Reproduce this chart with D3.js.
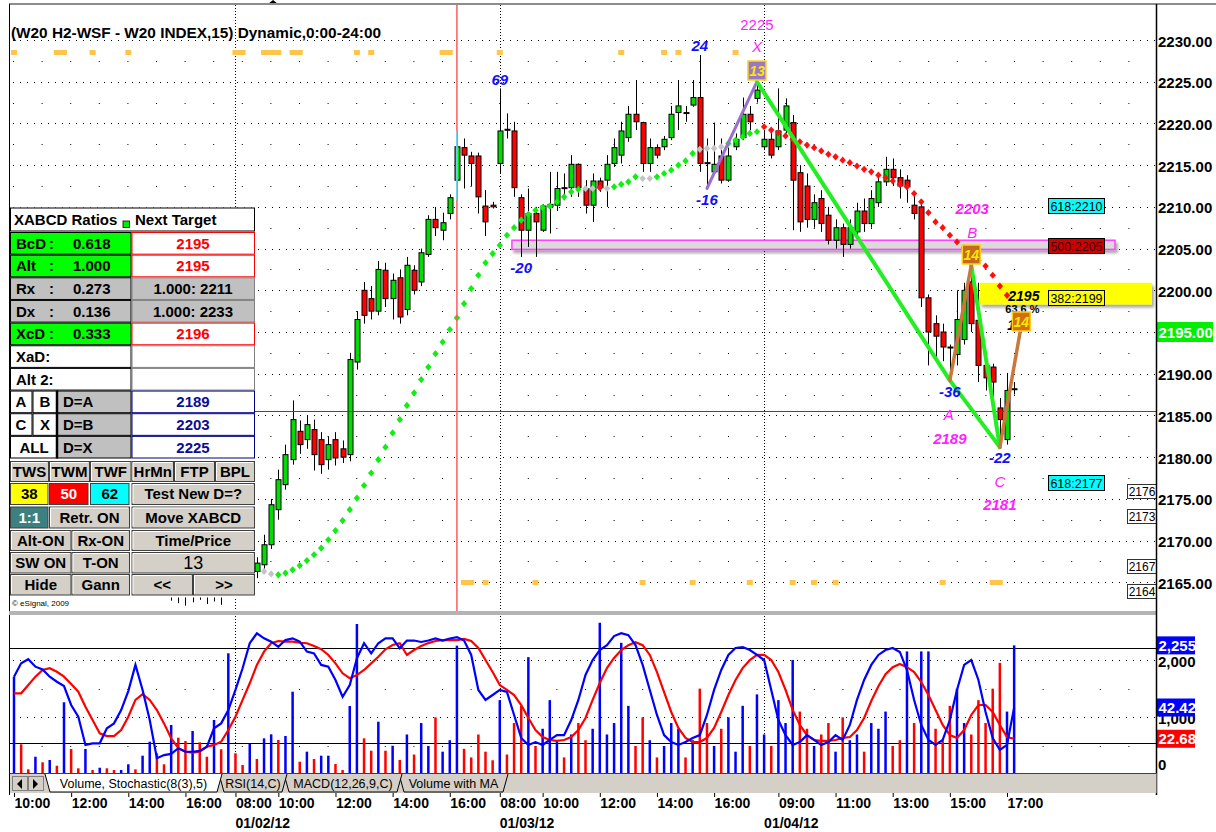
<!DOCTYPE html>
<html>
<head>
<meta charset="utf-8">
<title>W20 H2-WSF XABCD</title>
<script src="https://cdn.jsdelivr.net/npm/d3@7/dist/d3.min.js"></script>
<style>
  body { margin: 0; background: #fff; }
  svg { display: block; font-family: "Liberation Sans", Arial, sans-serif; }
</style>
</head>
<body>
<div id="chart"></div>
<script>
// ---------------- data ----------------
// one entry per 15 minute bar, bar 0 = 10:00 on the first day
const openP = [
  2168.0, 2168.8, 2169.6, 2170.0, 2169.2, 2169.0, 2168.4, 2168.0, 2166.9, 2166.0,
  2165.2, 2164.7, 2165.0, 2165.5, 2166.0, 2166.6, 2167.4, 2168.0, 2166.9, 2165.4,
  2164.3, 2164.2, 2164.4, 2164.0, 2164.3, 2163.8, 2164.6, 2164.0, 2164.8, 2165.3,
  2165.8, 2166.4, 2166.9, 2166.3, 2166.3, 2167.1, 2169.5, 2173.7, 2176.7, 2179.7,
  2183.1, 2182.1, 2183.3, 2182.1, 2179.7, 2182.1, 2181.0, 2180.3, 2191.4, 2200.0,
  2199.0, 2197.5, 2202.4, 2199.0, 2201.5, 2197.7, 2202.4, 2201.0, 2204.3, 2208.5,
  2207.2, 2209.2, 2213.2, 2217.1, 2216.1, 2216.1, 2210.1, 2210.2, 2215.2, 2219.3,
  2219.1, 2211.1, 2207.2, 2209.2, 2207.2, 2210.0, 2210.2, 2212.3, 2212.3, 2215.1,
  2212.2, 2210.2, 2213.1, 2213.2, 2215.2, 2216.2, 2218.3, 2221.1, 2220.1, 2215.2,
  2217.1, 2217.2, 2218.3, 2221.3, 2221.3, 2222.2, 2223.1, 2215.3, 2214.2, 2216.1,
  2213.2, 2217.2, 2218.3, 2221.1, 2223.0, 2217.2, 2218.1, 2217.2, 2219.2, 2220.1,
  2214.1, 2212.5, 2208.5, 2211.0, 2209.0, 2206.0, 2207.5, 2205.5, 2207.0, 2209.5,
  2208.0, 2210.5, 2213.0, 2214.5, 2213.5, 2213.2, 2210.2, 2210.0, 2199.1, 2196.0,
  2195.0, 2193.2, 2192.3, 2194.1, 2201.0, 2196.4, 2191.0, 2190.8, 2185.9, 2182.1,
  2188.1
];
const highP = [
  2169.5, 2170.2, 2170.5, 2170.4, 2169.8, 2169.5, 2168.9, 2168.6, 2167.3, 2166.5,
  2165.8, 2165.5, 2165.9, 2166.4, 2167.0, 2167.8, 2168.5, 2168.3, 2167.2, 2165.8,
  2164.9, 2164.8, 2165.0, 2164.7, 2164.8, 2164.9, 2165.2, 2165.0, 2165.6, 2166.0,
  2166.8, 2167.3, 2167.4, 2167.0, 2168.0, 2170.7, 2175.0, 2178.5, 2181.5, 2186.8,
  2184.4, 2185.0, 2184.5, 2183.0, 2182.5, 2183.0, 2182.0, 2192.5, 2197.5, 2201.0,
  2200.5, 2203.5, 2203.3, 2202.0, 2202.5, 2204.0, 2203.0, 2205.0, 2209.0, 2210.0,
  2209.3, 2211.5, 2219.1, 2218.2, 2216.6, 2216.5, 2212.0, 2210.6, 2224.2, 2221.2,
  2220.2, 2211.5, 2212.2, 2210.0, 2210.3, 2214.2, 2214.2, 2214.0, 2216.2, 2215.2,
  2213.2, 2214.0, 2213.5, 2216.2, 2218.2, 2220.2, 2222.1, 2225.2, 2220.2, 2218.2,
  2217.5, 2218.5, 2222.1, 2225.2, 2222.1, 2225.2, 2228.2, 2218.2, 2220.1, 2218.2,
  2217.1, 2218.8, 2223.1, 2222.1, 2225.0, 2219.2, 2219.2, 2224.2, 2223.0, 2221.0,
  2215.0, 2214.0, 2211.5, 2212.0, 2210.0, 2208.5, 2208.0, 2208.5, 2210.5, 2211.0,
  2212.0, 2214.0, 2216.0, 2215.8, 2214.5, 2213.8, 2211.5, 2210.8, 2199.5, 2197.0,
  2196.0, 2193.5, 2200.0, 2200.9, 2203.0, 2200.9, 2191.3, 2191.2, 2187.1, 2190.1,
  2189.0
];
const lowP = [
  2167.2, 2168.2, 2168.9, 2168.8, 2168.5, 2168.0, 2167.6, 2166.4, 2165.6, 2164.8,
  2164.3, 2164.2, 2164.6, 2165.1, 2165.6, 2166.2, 2166.8, 2166.5, 2165.0, 2163.9,
  2163.8, 2163.7, 2162.8, 2162.5, 2162.2, 2162.6, 2162.9, 2162.4, 2162.7, 2162.3,
  2163.8, 2165.9, 2165.8, 2165.4, 2165.5, 2166.2, 2169.0, 2172.5, 2176.1, 2179.1,
  2180.4, 2181.0, 2178.4, 2178.0, 2178.5, 2179.0, 2179.3, 2179.5, 2190.5, 2196.0,
  2196.5, 2197.0, 2198.0, 2196.5, 2196.0, 2197.0, 2199.5, 2200.5, 2204.0, 2206.5,
  2206.0, 2208.5, 2210.8, 2212.2, 2212.5, 2209.2, 2206.5, 2209.8, 2214.0, 2218.2,
  2211.2, 2204.0, 2205.2, 2204.0, 2207.0, 2206.8, 2209.5, 2210.8, 2211.2, 2211.2,
  2209.2, 2208.2, 2211.8, 2210.0, 2214.8, 2215.2, 2217.8, 2219.2, 2214.2, 2214.2,
  2215.8, 2216.8, 2218.0, 2219.2, 2220.2, 2222.0, 2214.2, 2212.2, 2214.0, 2212.8,
  2213.0, 2216.8, 2218.0, 2219.2, 2222.5, 2216.8, 2215.8, 2216.8, 2218.8, 2207.2,
  2207.0, 2207.5, 2207.5, 2207.0, 2205.5, 2205.0, 2204.0, 2205.0, 2206.5, 2207.0,
  2207.5, 2210.0, 2212.5, 2212.5, 2211.0, 2210.5, 2208.5, 2198.0, 2191.0, 2192.0,
  2191.5, 2189.3, 2191.0, 2193.5, 2195.0, 2189.0, 2188.0, 2185.3, 2181.3, 2181.5,
  2187.5
];
const closeP = [
  2168.8, 2169.6, 2170.0, 2169.2, 2169.0, 2168.4, 2168.0, 2166.9, 2166.0, 2165.2,
  2164.7, 2165.0, 2165.5, 2166.0, 2166.6, 2167.4, 2168.0, 2166.9, 2165.4, 2164.3,
  2164.2, 2164.4, 2164.0, 2164.3, 2163.3, 2164.6, 2164.0, 2164.8, 2165.3, 2165.8,
  2166.4, 2166.9, 2166.3, 2166.6, 2167.3, 2169.5, 2174.3, 2177.3, 2180.3, 2184.5,
  2181.5, 2183.9, 2180.3, 2179.1, 2181.5, 2179.9, 2180.0, 2191.7, 2196.5, 2197.0,
  2197.5, 2202.5, 2199.0, 2201.2, 2196.8, 2203.0, 2200.0, 2204.5, 2208.5, 2207.5,
  2208.1, 2211.1, 2217.2, 2216.2, 2215.2, 2211.2, 2208.2, 2210.0, 2219.1, 2219.2,
  2212.3, 2207.2, 2209.2, 2208.2, 2210.1, 2210.3, 2212.2, 2212.2, 2215.1, 2212.3,
  2210.2, 2213.1, 2212.3, 2215.1, 2217.1, 2219.1, 2221.1, 2220.2, 2215.2, 2217.1,
  2216.2, 2218.1, 2221.1, 2222.1, 2221.2, 2223.1, 2215.2, 2215.2, 2215.1, 2213.2,
  2216.1, 2218.1, 2221.1, 2220.2, 2224.0, 2218.1, 2216.2, 2219.1, 2222.1, 2213.2,
  2208.2, 2208.5, 2210.5, 2208.0, 2206.0, 2207.5, 2205.5, 2207.5, 2209.5, 2208.0,
  2211.0, 2213.0, 2214.5, 2213.5, 2212.5, 2212.4, 2209.2, 2199.1, 2195.0, 2194.5,
  2193.2, 2193.1, 2196.5, 2200.0, 2196.0, 2191.0, 2189.5, 2189.0, 2184.5, 2188.0,
  2188.2
];
const volume = [
  1709, 529, 92, 312, 215, 255, 155, 1262, 447, 110,
  447, 80, 120, 110, 80, 80, 180, 92, 330, 574,
  372, 180, 866, 644, 586, 761, 564, 312, 953, 442,
  2117, 372, 168, 534, 272, 633, 703, 604, 674, 1447,
  225, 400, 272, 330, 330, 185, 80, 1197, 2628, 633,
  417, 923, 417, 504, 255, 700, 350, 900, 500, 1000,
  400, 600, 2250, 450, 300, 700, 400, 250, 1300, 350,
  900, 1200, 2050, 500, 800, 1300, 600, 300, 700, 900,
  600, 800, 2650, 700, 900, 2300, 1200, 500, 1000, 600,
  300, 500, 900, 800, 300, 600, 1500, 900, 500, 800,
  1000, 400, 1200, 500, 1400, 700, 500, 1300, 900, 2000,
  1100, 800, 500, 700, 900, 400, 1000, 600, 700, 400,
  900, 800, 1100, 500, 600, 2150, 900, 2150, 2150, 800,
  600, 1200, 1500, 900, 700, 1300, 900, 1500, 1950, 1100,
  2255
];
// 1 = blue (up) volume bar, 0 = red (down)
const volumeUp = [
  1, 0, 0, 1, 0, 1, 0, 1, 0, 0,
  1, 0, 1, 0, 0, 1, 1, 0, 1, 1,
  0, 0, 1, 0, 0, 1, 0, 0, 1, 0,
  1, 0, 0, 1, 0, 1, 1, 0, 1, 1,
  0, 1, 0, 1, 1, 0, 0, 1, 1, 0,
  0, 1, 0, 1, 0, 1, 0, 1, 1, 0,
  1, 1, 1, 0, 0, 0, 0, 0, 1, 0,
  0, 0, 1, 0, 1, 1, 1, 0, 1, 0,
  0, 1, 1, 1, 1, 1, 1, 0, 0, 1,
  0, 1, 1, 1, 0, 1, 0, 0, 1, 0,
  1, 1, 1, 0, 1, 1, 0, 1, 1, 1,
  0, 0, 1, 0, 0, 1, 0, 1, 1, 0,
  1, 1, 1, 0, 0, 1, 0, 1, 1, 0,
  0, 0, 1, 1, 0, 0, 0, 0, 0, 1,
  1
];
const stochK = [
  61.9, 70.3, 72.9, 68.2, 66.5, 61.9, 58.7, 56.0, 44.0, 36.6,
  18.8, 19.8, 19.8, 29.3, 32.4, 40.8, 52.8, 69.3, 53.5, 34.5,
  10.4, 12.4, 13.1, 16.7, 14.5, 14.5, 15.0, 17.7, 29.3, 32.4,
  40.8, 53.5, 67.2, 83.0, 89.3, 86.1, 84.0, 80.8, 85.0, 86.1,
  84.0, 77.7, 76.6, 69.3, 68.2, 59.8, 49.2, 56.6, 73.5, 83.0,
  76.6, 83.0, 86.1, 86.1, 79.8, 84.7, 84.7, 83.8, 84.7, 86.0,
  84.7, 86.0, 86.9, 84.7, 75.6, 53.5, 47.2, 50.3, 53.5, 52.3,
  37.7, 23.2, 18.8, 20.6, 18.8, 22.0, 25.0, 25.0, 34.5, 47.2,
  63.0, 72.4, 78.7, 81.8, 87.5, 89.3, 88.1, 81.8, 69.3, 53.5,
  37.7, 25.0, 20.6, 18.8, 20.6, 23.2, 25.0, 37.7, 53.5, 66.1,
  75.6, 80.0, 80.6, 78.7, 75.6, 72.4, 53.5, 34.5, 25.0, 18.8,
  20.6, 25.0, 22.0, 18.8, 20.6, 25.0, 22.0, 31.4, 47.2, 59.8,
  69.3, 75.6, 78.7, 80.0, 77.5, 66.1, 47.2, 31.4, 22.0, 18.8,
  22.0, 34.5, 53.5, 69.3, 72.4, 59.8, 39.6, 23.2, 15.6, 18.8,
  42.42
];
const stochD = [
  51.4, 51.4, 56.6, 61.9, 66.1, 67.2, 65.0, 61.9, 57.3, 52.4,
  42.9, 34.5, 26.1, 24.4, 24.4, 28.2, 36.6, 47.2, 50.8, 47.2,
  40.8, 32.4, 23.0, 16.7, 14.5, 13.9, 14.5, 17.7, 18.8, 20.8,
  28.2, 36.6, 47.2, 57.7, 69.3, 77.7, 83.0, 84.4, 84.0, 84.0,
  83.3, 83.0, 81.2, 79.2, 75.6, 70.3, 64.0, 60.9, 62.9, 66.1,
  70.3, 74.5, 79.2, 81.9, 83.0, 75.6, 78.7, 81.2, 83.1, 84.4,
  85.0, 85.0, 85.0, 85.7, 84.4, 80.0, 72.4, 64.8, 56.6, 53.5,
  50.3, 44.0, 35.8, 28.2, 23.8, 21.9, 21.3, 21.9, 23.8, 28.2,
  35.8, 47.2, 57.9, 67.3, 73.7, 78.7, 81.8, 83.7, 81.8, 75.6,
  64.8, 52.2, 39.6, 29.5, 23.2, 20.6, 20.6, 23.2, 29.5, 39.6,
  50.3, 59.8, 67.3, 72.4, 75.6, 75.6, 72.4, 64.8, 53.5, 40.9,
  31.4, 25.0, 21.9, 21.3, 21.3, 21.9, 23.2, 23.8, 28.2, 35.8,
  46.5, 55.9, 63.5, 67.9, 69.9, 67.9, 64.8, 58.5, 50.3, 40.9,
  31.4, 25.0, 23.2, 28.2, 37.7, 44.0, 44.0, 39.6, 31.4, 23.8,
  22.68
];
// trailing stop dots, first dot on bar 35
const sarFirst = 35;
const sarValue = [
  2166.3, 2166.0, 2165.9, 2166.1, 2166.5, 2167.0, 2167.6, 2168.3, 2169.1, 2170.1,
  2171.2, 2172.4, 2173.7, 2175.1, 2176.6, 2178.1, 2179.7, 2181.2, 2182.9, 2184.5,
  2186.2, 2187.7, 2189.3, 2190.8, 2192.4, 2193.8, 2195.3, 2196.7, 2198.4, 2200.2,
  2201.8, 2203.3, 2204.4, 2205.4, 2206.6, 2207.5, 2208.4, 2209.1, 2209.6, 2209.9,
  2210.1, 2210.6, 2211.2, 2211.8, 2212.1, 2212.2, 2212.2, 2212.3, 2212.2, 2212.4,
  2212.7, 2213.0, 2213.6, 2213.4, 2213.4, 2213.6, 2214.0, 2214.4, 2215.0, 2215.5,
  2216.4, 2216.9, 2217.0, 2217.0, 2217.2, 2217.6, 2218.0, 2218.4, 2218.8, 2219.0,
  2219.6, 2219.2, 2218.9, 2218.5, 2218.1, 2217.8, 2217.4, 2217.1, 2216.7, 2216.3,
  2216.0, 2215.6, 2215.3, 2214.9, 2214.5, 2214.2, 2213.8, 2213.5, 2213.1, 2212.7,
  2212.4, 2211.6, 2210.6, 2209.3, 2208.2, 2207.5, 2206.6, 2205.8, 2205.1, 2204.4,
  2203.6, 2202.9, 2201.8, 2200.5, 2199.4
];
// runs of [trend, count]: 1 green, 0 grey, -1 red
const sarRuns = [[0, 2], [1, 43], [0, 2], [-1, 1], [0, 1], [1, 4], [0, 2], [1, 6], [0, 4], [1, 5], [-1, 35]];

const priceTicks = d3.range(2165, 2231, 5);
const timeIdx = [0, 8, 16, 24, 31, 37, 45, 53, 61, 68, 74, 82, 90, 98, 107, 115, 123, 131, 139];
const timeLabels = ["10:00", "12:00", "14:00", "16:00", "08:00", "10:00", "12:00", "14:00", "16:00",
  "08:00", "10:00", "12:00", "14:00", "16:00", "09:00", "11:00", "13:00", "15:00", "17:00"];
const dateIdx = [31, 68, 105];
const dateLabels = ["01/02/12", "01/03/12", "01/04/12"];
const topMarks = [[0, 0], [6, 7], [11, 11], [16, 16], [31, 32], [35, 37], [39, 40], [48, 48], [50, 50],
  [60, 61], [68, 68], [85, 85], [91, 91], [93, 93], [101, 101]];
const bottomMarks = [[63, 64], [66, 66], [73, 73], [88, 88], [95, 95], [103, 103], [109, 109],
  [112, 112], [115, 115], [130, 130], [137, 138]];

// XABCD pattern points [bar, price]
const pointX = [104, 2225], pointA = [131, 2189.2], pointB = [134, 2203], pointC = [138, 2181.2], pointD = [141, 2195.8];
const swingStart = [97, 2212.2];
const swingLabels = [[96, 2228.2, "24"], [68, 2224.2, "69"], [71, 2204.0, "-20"], [97, 2212.2, "-16"], [131, 2189.2, "-36"], [138, 2181.2, "-22"]];
const fibLevels = [["618:2210", 2210.1, "cyan"], ["500:2205", 2205.3, "red"], ["382:2199", 2199.1, "yellow"], ["618:2177", 2176.9, "cyan"]];
const edgeLevels = [2176, 2173, 2167, 2164];
const targetNote = ["2195", "63.6 %", "1.0"];
const lastPrice = 2195.0, crossPrice = 2185.5, crossBar = 62;
const pinkZone = [2206.0, 2204.9], yellowZone = [2200.9, 2198.3];
const lastVolume = 2255, lastK = 42.42, lastD = 22.68;

// ---------------- layout ----------------
const W = 1216, H = 832;
const left = 10, right = 1156.5, mainTop = 5, mainBottom = 611, lowTop = 616, lowBottom = 773;

const x = d3.scaleLinear().domain([0, 139]).range([14, 1007]);
const y = d3.scaleLinear().domain([2165, 2230]).range([582.3, 40]);
const yK = d3.scaleLinear().domain([0, 100]).range([774.7, 616.3]);
const yV = d3.scaleLinear().domain([0, 2000]).range([774.6, 660]);

const svg = d3.select("#chart").append("svg").attr("width", W).attr("height", H);
svg.append("rect").attr("width", W).attr("height", H).attr("fill", "#fff");

const defs = svg.append("defs");
defs.append("clipPath").attr("id", "clipMain").append("rect")
  .attr("x", left).attr("y", mainTop).attr("width", right - left).attr("height", mainBottom - mainTop);
defs.append("clipPath").attr("id", "clipLow").append("rect")
  .attr("x", left).attr("y", lowTop).attr("width", right - left).attr("height", lowBottom - lowTop);
const shadow = defs.append("filter").attr("id", "shadow")
  .attr("x", "-5%").attr("y", "-40%").attr("width", "110%").attr("height", "200%");
shadow.append("feDropShadow").attr("dx", 2).attr("dy", 3).attr("stdDeviation", 1.5)
  .attr("flood-color", "#000").attr("flood-opacity", 0.35);

const bars = d3.range(openP.length).map(i => ({
  i, o: openP[i], h: highP[i], l: lowP[i], c: closeP[i],
  v: volume[i], up: volumeUp[i], k: stochK[i], d: stochD[i]
}));

const sarTrend = [];
sarRuns.forEach(([t, n]) => { for (let k = 0; k < n; k++) sarTrend.push(t); });
const sarDots = sarValue.map((p, k) => ({ i: sarFirst + k, p, t: sarTrend[k] }));

const crisp = v => Math.round(v) + 0.5;

// ---------------- main price panel ----------------
const main = svg.append("g").attr("clip-path", "url(#clipMain)");

// grid: dense dots at every 5 points, sparse dots halfway
main.selectAll("line.grid").data(priceTicks).join("line")
  .attr("class", "grid")
  .attr("x1", left + 3).attr("x2", right)
  .attr("y1", d => crisp(y(d))).attr("y2", d => crisp(y(d)))
  .attr("stroke", "#000").attr("stroke-dasharray", "1,6");
main.selectAll("line.half").data(priceTicks.map(p => p + 2.5).filter(p => p < 2231)).join("line")
  .attr("class", "half")
  .attr("x1", x(0) - 1).attr("x2", right)
  .attr("y1", d => crisp(y(d))).attr("y2", d => crisp(y(d)))
  .attr("stroke", "#000").attr("stroke-dasharray", "1,27.6");
main.selectAll("line.day").data(dateIdx).join("line")
  .attr("class", "day")
  .attr("x1", d => crisp(x(d))).attr("x2", d => crisp(x(d)))
  .attr("y1", mainTop).attr("y2", mainBottom)
  .attr("stroke", "#000").attr("stroke-dasharray", "1,2");

// time-cycle markers
const markRect = (sel, row) => sel.join("rect")
  .attr("x", d => x(d[0]) - 3).attr("width", d => x(d[1]) - x(d[0]) + 6)
  .attr("y", row).attr("height", 5).attr("fill", "#fdc64b");
markRect(main.selectAll("rect.topMark").data(topMarks), 50);
markRect(main.selectAll("rect.botMark").data(bottomMarks), 580);

// zones
main.append("rect")
  .attr("x", x(69.7)).attr("width", 1115 - x(69.7))
  .attr("y", y(pinkZone[0])).attr("height", y(pinkZone[1]) - y(pinkZone[0]))
  .attr("fill", "#dadada").attr("stroke", "#ff40ff").attr("stroke-width", 1.5)
  .attr("filter", "url(#shadow)");
main.append("rect")
  .attr("x", x(135.2)).attr("width", 1152 - x(135.2))
  .attr("y", y(yellowZone[0])).attr("height", y(yellowZone[1]) - y(yellowZone[0]))
  .attr("fill", "#ffff00").attr("filter", "url(#shadow)");

// candles
const candle = main.selectAll("g.candle").data(bars).join("g").attr("class", "candle");
candle.append("line")
  .attr("x1", d => crisp(x(d.i))).attr("x2", d => crisp(x(d.i)))
  .attr("y1", d => y(d.h)).attr("y2", d => y(d.l))
  .attr("stroke", "#000");
candle.append("rect")
  .attr("x", d => crisp(x(d.i)) - 2.5).attr("width", 5)
  .attr("y", d => y(Math.max(d.o, d.c)))
  .attr("height", d => Math.max(1, Math.abs(y(d.o) - y(d.c))))
  .attr("fill", d => d.c >= d.o ? "#00dd00" : "#ff0000")
  .attr("stroke", "#000").attr("stroke-width", 1);

// trailing stop diamonds
main.selectAll("path.sar").data(sarDots).join("path")
  .attr("class", "sar")
  .attr("d", "M0,-3.6L3.2,0L0,3.6L-3.2,0Z")
  .attr("transform", d => `translate(${x(d.i)},${y(d.p)})`)
  .attr("fill", d => d.t > 0 ? "#11ee11" : d.t < 0 ? "#ff1010" : "#c4c4c4");

// cursor cross
main.append("line")
  .attr("x1", left).attr("x2", right).attr("y1", crisp(y(crossPrice))).attr("y2", crisp(y(crossPrice)))
  .attr("stroke", "#ff0000");
main.append("line")
  .attr("x1", x(crossBar)).attr("x2", x(crossBar)).attr("y1", mainTop).attr("y2", mainBottom)
  .attr("stroke", "#ff5a5a").attr("stroke-width", 1.5);
main.append("line")
  .attr("x1", x(crossBar)).attr("x2", x(crossBar))
  .attr("y1", y(highP[crossBar])).attr("y2", y(lowP[crossBar]))
  .attr("stroke", "#55e6ff").attr("stroke-width", 1.5);

// XABCD pattern
const pt = p => [x(p[0]), y(p[1])];
const seg = (a, b, color, w) => main.append("line")
  .attr("x1", pt(a)[0]).attr("y1", pt(a)[1]).attr("x2", pt(b)[0]).attr("y2", pt(b)[1])
  .attr("stroke", color).attr("stroke-width", w).attr("stroke-linecap", "round");
seg(swingStart, pointX, "#9b6fd0", 3);
seg(pointX, pointA, "#22ee22", 4);
seg(pointA, pointC, "#22ee22", 4);
seg(pointB, pointC, "#22ee22", 4);
seg(pointA, pointB, "#c8783a", 3.5);
seg(pointC, pointD, "#c8783a", 3.5);

const magenta = "#ff22ff";
const label = (tx, ty, text, color, opts = {}) => main.append("text")
  .attr("x", tx).attr("y", ty).attr("dy", "0.35em").attr("text-anchor", opts.anchor || "middle")
  .attr("font-size", opts.size || 15).attr("font-weight", opts.weight || "bold")
  .attr("font-style", opts.style || "italic").attr("fill", color).text(text);

swingLabels.forEach(([i, p, t]) => {
  const above = !t.startsWith("-");
  label(x(i), y(p) + (above ? -9 : 11), t, "#1010ff");
});
label(x(pointX[0]), 25, "2225", magenta, { style: "normal", weight: "normal" });
label(x(pointX[0]), 47, "X", magenta, { weight: "normal" });
label(x(pointB[0]) + 1, y(pointB[1]) - 57, "2203", magenta);
label(x(pointB[0]) + 1, y(pointB[1]) - 33, "B", magenta, { weight: "normal" });
label(x(pointA[0]) - 1, y(pointA[1]) + 34, "A", magenta, { weight: "normal" });
label(x(pointA[0]), y(pointA[1]) + 58, "2189", magenta);
label(x(pointC[0]), y(pointC[1]) + 35, "C", magenta, { weight: "normal" });
label(x(pointC[0]), y(pointC[1]) + 58, "2181", magenta);

// target note beside D
const noteX = x(pointD[0]) - 13;
label(noteX, y(lastPrice) - 36, targetNote[0], "#000", { anchor: "start", size: 14 });
label(noteX - 3, y(lastPrice) - 23, targetNote[1], "#000", { anchor: "start", size: 11, style: "normal" });
label(noteX - 1, y(lastPrice) - 7, targetNote[2], "#000", { anchor: "start", size: 14 });

const patternBox = (p, yCenter, fill, text) => {
  const cx = x(p[0]);
  main.append("rect").attr("x", cx - 9).attr("y", yCenter - 10).attr("width", 18).attr("height", 19)
    .attr("fill", fill).attr("stroke", "#ffd21e").attr("stroke-width", 1.5);
  main.append("text").attr("x", cx).attr("y", yCenter).attr("dy", "0.36em").attr("text-anchor", "middle")
    .attr("font-size", 14).attr("font-weight", "bold").attr("font-style", "italic")
    .attr("fill", "#ffe600").text(text);
};
patternBox(pointX, 71, "#9a78c8", "13");
patternBox(pointB, 255, "#c36a1e", "14");
patternBox(pointD, 322, "#d07010", "14");

// fib boxes
const fibFill = { cyan: "#00ffff", red: "#d00000", yellow: "#ffff00" };
fibLevels.forEach(([t, p, kind]) => {
  main.append("rect").attr("x", 1048.5).attr("y", crisp(y(p)) - 8).attr("width", 56).attr("height", 15)
    .attr("fill", fibFill[kind]).attr("stroke", "#000");
  main.append("text").attr("x", 1076.5).attr("y", crisp(y(p))).attr("dy", "0.36em").attr("text-anchor", "middle")
    .attr("font-size", 12.5).attr("fill", kind === "red" ? "#3a0000" : "#000").text(t);
});
edgeLevels.forEach(p => {
  main.append("rect").attr("x", 1127.5).attr("y", crisp(y(p)) - 7).attr("width", 29).attr("height", 14)
    .attr("fill", "#fff").attr("stroke", "#333");
  main.append("text").attr("x", 1142).attr("y", crisp(y(p))).attr("dy", "0.36em").attr("text-anchor", "middle")
    .attr("font-size", 12).attr("fill", "#000").text(p);
});

// ---------------- price axis ----------------
const axisR = svg.append("g").attr("transform", `translate(${right},0)`)
  .call(d3.axisRight(y).tickValues(priceTicks).tickFormat(d3.format(".2f")).tickSize(0).tickPadding(1.5));
axisR.select(".domain").remove();
axisR.selectAll("text").attr("font-size", 15).attr("font-weight", "bold").attr("fill", "#000")
  .attr("font-family", '"Liberation Sans", Arial, sans-serif').attr("dy", "0.4em");
svg.append("rect").attr("x", right + 0.5).attr("y", y(lastPrice) - 10).attr("width", 56).attr("height", 20).attr("fill", "#00ee00");
svg.append("text").attr("x", right + 2).attr("y", y(lastPrice)).attr("dy", "0.38em")
  .attr("font-size", 15).attr("font-weight", "bold").attr("fill", "#fff").text(d3.format(".2f")(lastPrice));

// title
svg.append("text").attr("x", 11).attr("y", 38)
  .attr("font-size", 14).attr("font-weight", "bold").attr("fill", "#000")
  .attr("textLength", 370).attr("lengthAdjust", "spacingAndGlyphs")
  .text("(W20 H2-WSF - W20 INDEX,15) Dynamic,0:00-24:00");
svg.append("path").attr("d", "M268,4L273,0L278,4Z").attr("fill", "#000");

// ---------------- XABCD control table ----------------
const tbl = svg.append("g");
tbl.append("rect").attr("x", left).attr("y", 207.5).attr("width", 245).attr("height", 390).attr("fill", "#fff");
const cell = (x0, x1, y0, y1, fill, stroke) => tbl.append("rect")
  .attr("x", x0 + 0.5).attr("y", y0 + 0.5).attr("width", x1 - x0 - 1).attr("height", y1 - y0 - 1)
  .attr("fill", fill).attr("stroke", stroke).attr("stroke-width", 1);
const txt = (tx, ty, t, opts = {}) => tbl.append("text")
  .attr("x", tx).attr("y", ty).attr("dy", "0.36em").attr("text-anchor", opts.anchor || "start")
  .attr("font-size", opts.size || 15).attr("font-weight", opts.weight || "bold")
  .attr("fill", opts.color || "#000").text(t);

cell(left, 255, 207.5, 231.5, "#fff", "#000");
txt(14, 220, "XABCD Ratios");
tbl.append("rect").attr("x", 123).attr("y", 221).attr("width", 6.5).attr("height", 6.5).attr("fill", "#00ee00").attr("stroke", "#000").attr("stroke-width", 0.8);
txt(135, 220, "Next Target");

const ratioRows = [
  ["BcD", "0.618", "2195", "#00ff00", "red"],
  ["Alt", "1.000", "2195", "#00ff00", "red"],
  ["Rx", "0.273", "1.000: 2211", "#c0c0c0", "gray"],
  ["Dx", "0.136", "1.000: 2233", "#c0c0c0", "gray"],
  ["XcD", "0.333", "2196", "#00ff00", "red"],
  ["XaD:", "", "", "#fff", "plain"],
  ["Alt 2:", "", "", "#fff", "plain"]
];
const rowTop = 232, rowH = 22.65;
ratioRows.forEach(([name, ratio, target, fill, kind], r) => {
  const y0 = rowTop + r * rowH, y1 = y0 + rowH, cy = (y0 + y1) / 2;
  cell(left, 131.5, y0, y1, fill, "#000");
  const rightFill = kind === "gray" ? "#c0c0c0" : "#fff";
  const rightStroke = kind === "red" ? "#ff0000" : "#808080";
  cell(131.5, 255, y0, y1, rightFill, rightStroke);
  txt(16, cy, name);
  if (ratio) { txt(49, cy, ":"); txt(73, cy, ratio); }
  if (target) txt(193, cy, target, { anchor: "middle", color: kind === "red" ? "#ff0000" : "#000" });
});
const pointRows = [["A", "B", "D=A", "2189"], ["C", "X", "D=B", "2203"], ["ALL", null, "D=X", "2225"]];
pointRows.forEach(([p1, p2, rule, val], r) => {
  const y0 = rowTop + (7 + r) * rowH, y1 = y0 + rowH, cy = (y0 + y1) / 2;
  if (p2) {
    cell(left, 32.5, y0, y1, "#fff", "#000"); txt(21, cy, p1, { anchor: "middle" });
    cell(32.5, 57, y0, y1, "#fff", "#000"); txt(45, cy, p2, { anchor: "middle" });
  } else {
    cell(left, 57, y0, y1, "#fff", "#000"); txt(34, cy, p1, { anchor: "middle" });
  }
  cell(57, 131.5, y0, y1, "#c0c0c0", "#000");
  tbl.append("line").attr("x1", 57).attr("x2", 57).attr("y1", y0).attr("y2", y1).attr("stroke", "#000").attr("stroke-width", 2.5);
  txt(63, cy, rule);
  cell(131.5, 255, y0, y1, "#fff", "#000080");
  txt(193, cy, val, { anchor: "middle", color: "#0c0c96" });
});

const button = (x0, x1, y0, y1, t, opts = {}) => {
  tbl.append("rect").attr("x", x0 + 0.5).attr("y", y0 + 0.5).attr("width", x1 - x0 - 1).attr("height", y1 - y0 - 1)
    .attr("fill", opts.fill || "#d4d0c8").attr("stroke", "#404040");
  if (!opts.fill) {
    tbl.append("path").attr("d", `M${x0 + 1.5},${y1 - 2}V${y0 + 1.5}H${x1 - 2}`).attr("fill", "none").attr("stroke", "#fff");
  }
  txt((x0 + x1) / 2, (y0 + y1) / 2, t, { anchor: "middle", color: opts.color, size: opts.size, weight: opts.weight });
};
const btnRows = [[461, 482], [483, 505], [506.5, 528.5], [530, 551], [552, 573.5], [574, 595.5]];
const [b1, b2, b3, b4, b5, b6] = btnRows;
button(left, 49, ...b1, "TWS"); button(49, 90, ...b1, "TWM"); button(90, 131.5, ...b1, "TWF");
button(131.5, 174, ...b1, "HrMn"); button(174, 215, ...b1, "FTP"); button(215, 255, ...b1, "BPL");
button(left, 48.5, ...b2, "38", { fill: "#ffff00" }); button(49, 88.5, ...b2, "50", { fill: "#ff0000", color: "#fff" });
button(90, 129.5, ...b2, "62", { fill: "#00ffff" }); button(131.5, 255, ...b2, "Test New D=?");
button(left, 48.5, ...b3, "1:1", { fill: "#3c8080", color: "#fff" }); button(49, 130, ...b3, "Retr. ON");
button(131.5, 255, ...b3, "Move XABCD");
button(left, 71.5, ...b4, "Alt-ON"); button(71.5, 130, ...b4, "Rx-ON"); button(131.5, 255, ...b4, "Time/Price");
button(left, 71.5, ...b5, "SW ON"); button(71.5, 130, ...b5, "T-ON"); button(131.5, 255, ...b5, "13", { size: 18, weight: "normal" });
button(left, 71.5, ...b6, "Hide"); button(71.5, 130, ...b6, "Gann"); button(131.5, 193, ...b6, "<<"); button(193, 255, ...b6, ">>");
svg.append("text").attr("x", 12).attr("y", 606).attr("font-size", 8).attr("fill", "#000").text("\u00a9 eSignal, 2009");

// ---------------- lower indicator panel ----------------
const low = svg.append("g").attr("clip-path", "url(#clipLow)");
[yK(80), yK(20)].forEach(v => low.append("line").attr("x1", left).attr("x2", right)
  .attr("y1", crisp(v)).attr("y2", crisp(v)).attr("stroke", "#000"));
[1000, 2000].forEach(v => low.append("line").attr("x1", left + 3).attr("x2", right)
  .attr("y1", crisp(yV(v))).attr("y2", crisp(yV(v))).attr("stroke", "#000").attr("stroke-dasharray", "1,6"));
[500, 1500].forEach(v => low.append("line").attr("x1", x(0) - 1).attr("x2", right)
  .attr("y1", crisp(yV(v))).attr("y2", crisp(yV(v))).attr("stroke", "#000").attr("stroke-dasharray", "1,27.6"));
low.selectAll("line.day").data(dateIdx).join("line").attr("class", "day")
  .attr("x1", d => crisp(x(d))).attr("x2", d => crisp(x(d))).attr("y1", lowTop).attr("y2", lowBottom)
  .attr("stroke", "#000").attr("stroke-dasharray", "1,2");
low.selectAll("rect.vol").data(bars).join("rect").attr("class", "vol")
  .attr("x", d => x(d.i) - 1.25).attr("width", 2.5)
  .attr("y", d => yV(d.v)).attr("height", d => lowBottom - yV(d.v))
  .attr("fill", d => d.up ? "#0000ff" : "#ff0000");
low.append("path").datum(bars)
  .attr("d", d3.line().x(d => x(d.i)).y(d => yK(d.d)))
  .attr("fill", "none").attr("stroke", "#ff0000").attr("stroke-width", 2.2);
low.append("path").datum(bars)
  .attr("d", d3.line().x(d => x(d.i)).y(d => yK(d.k)))
  .attr("fill", "none").attr("stroke", "#0000ff").attr("stroke-width", 2.2);

const axisV = svg.append("g").attr("transform", `translate(${right},0)`)
  .call(d3.axisRight(yV).tickValues([1000, 2000]).tickFormat(d3.format(",")).tickSize(0).tickPadding(1.5));
axisV.select(".domain").remove();
axisV.selectAll("text").attr("font-size", 15).attr("font-weight", "bold").attr("fill", "#000")
  .attr("font-family", '"Liberation Sans", Arial, sans-serif').attr("dy", "0.4em");
svg.append("text").attr("x", right + 1.5).attr("y", 765).attr("dy", "0.36em")
  .attr("font-size", 15).attr("font-weight", "bold").text("0");
const valueTag = (v, yy, fill) => {
  svg.append("rect").attr("x", right + 0.5).attr("y", yy - 9).attr("width", 38).attr("height", 18).attr("fill", fill);
  svg.append("text").attr("x", right + 2).attr("y", yy).attr("dy", "0.38em")
    .attr("font-size", 15).attr("font-weight", "bold").attr("fill", "#fff").text(v);
};
valueTag(d3.format(",")(lastVolume), yV(lastVolume), "#0000ff");
valueTag(lastK.toFixed(2), yK(lastK), "#0000ff");
valueTag(lastD.toFixed(2), yK(lastD), "#ff0000");

// ---------------- frames ----------------
svg.append("line").attr("x1", 9).attr("x2", W).attr("y1", 4).attr("y2", 4).attr("stroke", "#8c8c8c").attr("stroke-width", 2);
svg.append("line").attr("x1", 9.5).attr("x2", 9.5).attr("y1", 4).attr("y2", 795).attr("stroke", "#000");
svg.append("rect").attr("x", 9).attr("y", mainBottom).attr("width", right - 9).attr("height", 4).attr("fill", "#b4b4b4");
svg.append("line").attr("x1", right).attr("x2", right).attr("y1", 4).attr("y2", 795).attr("stroke", "#000").attr("stroke-width", 1.5);

// tab strip
svg.append("rect").attr("x", 10).attr("y", lowBottom).attr("width", right - 10).attr("height", 20).attr("fill", "#d4d0c8");
svg.append("line").attr("x1", 10).attr("x2", right).attr("y1", lowBottom + 0.5).attr("y2", lowBottom + 0.5).attr("stroke", "#404040");
[[12, 27, "M22,779L22,789L17,784Z"], [28, 43, "M33,779L33,789L38,784Z"]].forEach(([a, b, d]) => {
  svg.append("rect").attr("x", a + 0.5).attr("y", 776.5).attr("width", b - a).attr("height", 14).attr("fill", "#d4d0c8").attr("stroke", "#808080");
  svg.append("path").attr("d", d).attr("fill", "#000");
});
const tabs = [
  [45, 222, "Volume, Stochastic(8(3),5)", true],
  [219, 287, "RSI(14,C)", false],
  [284, 402, "MACD(12,26,9,C)", false],
  [399, 508, "Volume with MA", false]
];
tabs.slice().reverse().forEach(([a, b, t, active]) => {
  svg.append("path").attr("d", `M${a},${lowBottom + 1}L${a + 5},${lowBottom + 19}L${b - 5},${lowBottom + 19}L${b},${lowBottom + 1}`)
    .attr("fill", active ? "#fff" : "#d4d0c8").attr("stroke", "#000");
  svg.append("text").attr("x", (a + b) / 2).attr("y", lowBottom + 10).attr("dy", "0.36em").attr("text-anchor", "middle")
    .attr("font-size", 12.5).attr("fill", "#000").text(t);
});

// time axis
const axisT = svg.append("g").attr("transform", `translate(0,793)`)
  .call(d3.axisBottom(x).tickValues(timeIdx).tickFormat((d, k) => timeLabels[k]).tickSize(4).tickPadding(2));
axisT.select(".domain").remove();
axisT.selectAll("line").attr("stroke", "#000");
axisT.selectAll("text").attr("text-anchor", "start").attr("font-size", 14).attr("font-weight", "bold")
  .attr("fill", "#000").attr("font-family", '"Liberation Sans", Arial, sans-serif').attr("y", 5);
svg.selectAll("text.date").data(dateIdx).join("text").attr("class", "date")
  .attr("x", d => x(d)).attr("y", 828).attr("font-size", 14).attr("font-weight", "bold").text((d, k) => dateLabels[k]);
</script>
</body>
</html>
